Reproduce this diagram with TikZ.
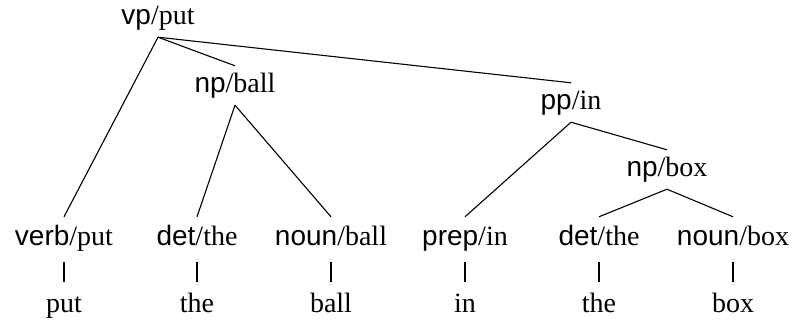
\documentclass[tikz,border=0pt]{standalone}
\usepackage{fontspec}
\setmainfont{Liberation Serif}
\setsansfont{Liberation Sans}
\begin{document}
\begin{tikzpicture}[x=1pt,y=-1pt,
  base/.style={inner sep=0pt, anchor=base, font=\fontsize{28}{32}\selectfont},
  cat/.style={base, text height=27pt, text depth=12pt},
  leaf/.style={base, text height=28pt, text depth=17pt},
  word/.style={base, text height=30pt, text depth=6pt},
  edge/.style={line width=1.1pt}]
\useasboundingbox (0,0) rectangle (794,320);
% internal nodes
\node[cat] (vp)  at (158,25)  {{\sffamily vp}/put};
\node[cat] (np1) at (235,93)  {{\sffamily np}/ball};
\node[cat] (pp)  at (571,110) {{\sffamily pp}/in};
\node[cat] (np2) at (667,177) {{\sffamily np}/box};
% leaves
\node[leaf] (verb)  at (64,245)  {{\sffamily verb}/put};
\node[leaf] (det1)  at (197,245) {{\sffamily det}/the};
\node[leaf] (noun1) at (331,245) {{\sffamily noun}/ball};
\node[leaf] (prep)  at (465,245) {{\sffamily prep}/in};
\node[leaf] (det2)  at (599,245) {{\sffamily det}/the};
\node[leaf] (noun2) at (733,245) {{\sffamily noun}/box};
% words
\node[word] (w1) at (64,312)  {put};
\node[word] (w2) at (197,312) {the};
\node[word] (w3) at (331,312) {ball};
\node[word] (w4) at (465,312) {in};
\node[word] (w5) at (599,312) {the};
\node[word] (w6) at (733,312) {box};
% edges
\draw[edge] (vp.south) -- (verb.north);
\draw[edge] (vp.south) -- (np1.north);
\draw[edge] (vp.south) -- (pp.north);
\draw[edge] (np1.south) -- (det1.north);
\draw[edge] (np1.south) -- (noun1.north);
\draw[edge] (pp.south) -- (prep.north);
\draw[edge] (pp.south) -- (np2.north);
\draw[edge] (np2.south) -- (det2.north);
\draw[edge] (np2.south) -- (noun2.north);
\draw[edge] (verb.south) -- (w1.north);
\draw[edge] (det1.south) -- (w2.north);
\draw[edge] (noun1.south) -- (w3.north);
\draw[edge] (prep.south) -- (w4.north);
\draw[edge] (det2.south) -- (w5.north);
\draw[edge] (noun2.south) -- (w6.north);
\end{tikzpicture}
\end{document}
